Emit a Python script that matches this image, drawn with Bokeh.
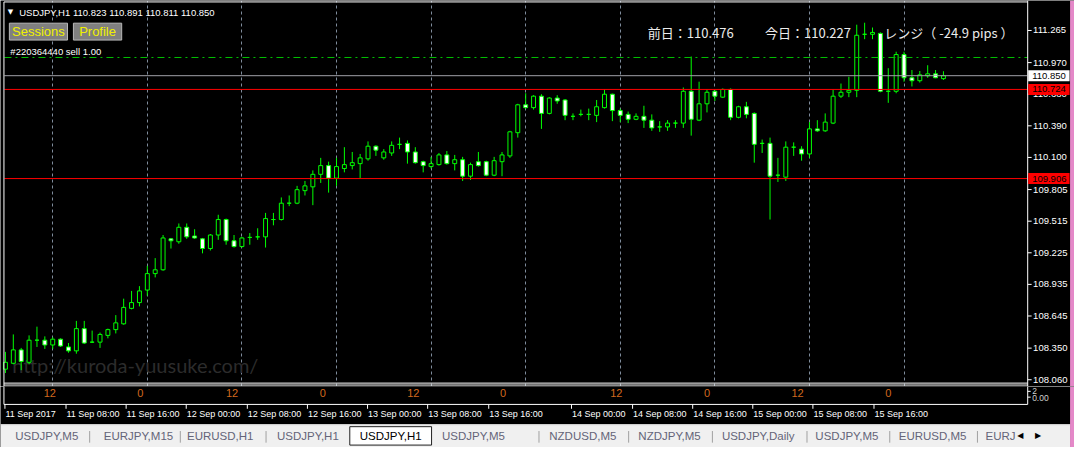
from bokeh.plotting import figure
from bokeh.models import Range1d, FixedTicker, Grid, ColumnDataSource
from bokeh.layouts import column
from bokeh.embed import file_html
from bokeh.resources import INLINE
from bokeh.core.properties import value

# ---------------- data ----------------
bars = list(range(120))  # hourly bars from 11 Sep 2017 00:00
opens = [108.157, 108.211, 108.334, 108.220, 108.423, 108.423, 108.379, 108.432, 108.361, 108.325,
         108.529, 108.405, 108.405, 108.467, 108.520, 108.573, 108.715, 108.768, 108.883, 109.034,
         109.069, 109.353, 109.326, 109.459, 109.379, 109.353, 109.264, 109.388, 109.530, 109.335,
         109.282, 109.366, 109.371, 109.371, 109.530, 109.530, 109.680, 109.680, 109.795, 109.830,
         109.945, 110.025, 109.910, 109.998, 110.025, 110.043, 110.087, 110.203, 110.096, 110.141,
         110.220, 110.229, 110.150, 110.061, 110.016, 110.034, 110.123, 110.043, 110.079, 109.928,
         110.061, 110.061, 109.937, 110.061, 110.114, 110.327, 110.583, 110.557, 110.662, 110.504,
         110.645, 110.627, 110.477, 110.495, 110.495, 110.486, 110.557, 110.680, 110.530, 110.495,
         110.450, 110.477, 110.442, 110.380, 110.380, 110.415, 110.415, 110.707, 110.442, 110.592,
         110.707, 110.653, 110.724, 110.468, 110.565, 110.504, 110.229, 110.229, 109.937, 109.919,
         110.194, 110.176, 110.132, 110.362, 110.344, 110.415, 110.662, 110.698, 110.716, 111.230,
         111.230, 111.238, 110.707, 110.707, 111.044, 110.831, 110.804, 110.849, 110.867, 110.823]
highs = [108.316, 108.476, 108.352, 108.467, 108.547, 108.458, 108.449, 108.440, 108.397, 108.600,
         108.600, 108.511, 108.493, 108.529, 108.653, 108.804, 108.875, 108.919, 109.105, 109.176,
         109.388, 109.361, 109.494, 109.494, 109.441, 109.361, 109.397, 109.574, 109.539, 109.388,
         109.371, 109.406, 109.450, 109.591, 109.591, 109.733, 109.751, 109.839, 109.884, 109.981,
         110.096, 110.061, 110.096, 110.194, 110.150, 110.132, 110.247, 110.211, 110.176, 110.247,
         110.282, 110.256, 110.194, 110.070, 110.105, 110.141, 110.159, 110.123, 110.105, 110.052,
         110.150, 110.070, 110.105, 110.150, 110.344, 110.592, 110.689, 110.671, 110.680, 110.653,
         110.671, 110.636, 110.504, 110.539, 110.548, 110.627, 110.724, 110.685, 110.548, 110.521,
         110.504, 110.574, 110.495, 110.433, 110.442, 110.442, 110.742, 111.026, 110.795, 110.724,
         110.716, 110.733, 110.733, 110.574, 110.610, 110.513, 110.264, 110.282, 110.096, 110.247,
         110.238, 110.203, 110.424, 110.442, 110.504, 110.724, 110.778, 110.840, 111.318, 111.336,
         111.292, 111.247, 110.919, 111.070, 111.070, 110.902, 110.893, 110.946, 110.902, 110.891]
lows = [108.122, 108.202, 108.148, 108.202, 108.361, 108.343, 108.343, 108.361, 108.308, 108.299,
        108.388, 108.397, 108.352, 108.440, 108.485, 108.565, 108.706, 108.733, 108.831, 108.999,
        109.060, 109.264, 109.308, 109.353, 109.353, 109.220, 109.246, 109.344, 109.299, 109.273,
        109.273, 109.299, 109.344, 109.273, 109.477, 109.521, 109.653, 109.671, 109.751, 109.662,
        109.866, 109.777, 109.839, 109.963, 109.990, 109.910, 110.070, 110.114, 110.079, 110.114,
        110.176, 110.043, 110.043, 109.963, 109.998, 110.025, 110.034, 109.981, 109.884, 109.893,
        110.016, 109.928, 109.928, 109.928, 110.096, 110.282, 110.548, 110.539, 110.362, 110.495,
        110.592, 110.442, 110.442, 110.477, 110.442, 110.424, 110.548, 110.433, 110.424, 110.415,
        110.442, 110.371, 110.344, 110.335, 110.344, 110.371, 110.371, 110.300, 110.433, 110.513,
        110.618, 110.645, 110.442, 110.459, 110.459, 110.052, 110.141, 109.530, 109.875, 109.884,
        110.114, 110.070, 110.096, 110.335, 110.335, 110.406, 110.645, 110.653, 110.653, 111.185,
        111.185, 110.698, 110.601, 110.689, 110.795, 110.751, 110.787, 110.831, 110.827, 110.811]
closes = [108.220, 108.334, 108.228, 108.423, 108.423, 108.379, 108.432, 108.370, 108.325, 108.529,
          108.397, 108.405, 108.476, 108.520, 108.582, 108.724, 108.768, 108.875, 109.034, 109.069,
          109.361, 109.335, 109.459, 109.371, 109.361, 109.264, 109.388, 109.530, 109.335, 109.282,
          109.361, 109.366, 109.371, 109.539, 109.530, 109.680, 109.680, 109.804, 109.839, 109.945,
          110.025, 109.910, 110.016, 110.034, 110.052, 110.096, 110.203, 110.167, 110.150, 110.211,
          110.220, 110.150, 110.052, 110.025, 110.043, 110.123, 110.043, 110.079, 109.928, 110.034,
          110.025, 109.937, 110.070, 110.123, 110.335, 110.583, 110.557, 110.662, 110.504, 110.645,
          110.618, 110.486, 110.477, 110.495, 110.495, 110.565, 110.680, 110.530, 110.486, 110.450,
          110.477, 110.442, 110.371, 110.380, 110.415, 110.415, 110.707, 110.450, 110.592, 110.698,
          110.662, 110.724, 110.468, 110.565, 110.495, 110.220, 110.229, 109.928, 109.937, 110.194,
          110.194, 110.132, 110.362, 110.344, 110.424, 110.662, 110.698, 110.716, 111.221, 111.230,
          111.247, 110.707, 110.707, 111.044, 110.831, 110.804, 110.858, 110.867, 110.831, 110.850]

price_ticks = [108.060, 108.350, 108.645, 108.935, 109.225, 109.515, 109.805,
               110.100, 110.390, 110.680, 110.970, 111.265]
grid_bars = [6, 18, 30, 42, 54, 66, 78, 90, 102, 114]
bid_price = 110.850
red_levels = [110.724, 109.906]
order_price = 111.017
header_text = "USDJPY,H1  110.823 110.891 110.811 110.850"
order_text = "#220364440 sell 1.00"
jp_texts = ["前日：110.476", "今日：110.227", "レンジ（ -24.9 pips ）"]
jp_x = [657, 776, 897]
session_labels = ["12", "0", "12", "0", "12", "0", "12", "0", "12", "0"]
session_x = [50, 142, 235, 327, 419, 510, 625, 717, 809, 901]
time_labels = ["11 Sep 2017", "11 Sep 08:00", "11 Sep 16:00", "12 Sep 00:00", "12 Sep 08:00",
               "12 Sep 16:00", "13 Sep 00:00", "13 Sep 08:00", "13 Sep 16:00", "14 Sep 00:00",
               "14 Sep 08:00", "14 Sep 16:00", "15 Sep 00:00", "15 Sep 08:00", "15 Sep 16:00"]
time_x = [4, 66, 127, 188, 250, 311, 372, 433, 495, 579, 641, 702, 763, 824, 886]
tabs = ["USDJPY,M5", "EURJPY,M15", "EURUSD,H1", "USDJPY,H1", "USDJPY,H1", "USDJPY,M5",
        "NZDUSD,M5", "NZDJPY,M5", "USDJPY,Daily", "USDJPY,M5", "EURUSD,M5", "EURJ"]
tab_x = [47, 140, 223, 312, 396, 480, 591, 679, 769, 859, 946, 1015]
active_tab = 4
tab_sep_x = [90, 182, 269, 546, 637, 722, 818, 902, 991]

LIME = "#00ff00"
FONT = value("Liberation Sans")
PINK = "#e488c8"

# ---------------- main chart (frame = whole panel, price scale drawn at right) ----------------
p = figure(width=1074, height=386, title=None,
           x_range=Range1d(-0.625, 135.625), y_range=Range1d(107.998, 111.540),
           x_axis_location=None, y_axis_location=None,
           output_backend="svg", toolbar_location=None,
           background_fill_color="black", border_fill_color="black",
           min_border=0, outline_line_color=None)
p.extra_x_ranges = {"px": Range1d(0, 1090)}
p.extra_y_ranges = {"px": Range1d(400, 0)}
p.grid.visible = False

p.add_layout(Grid(dimension=0, ticker=FixedTicker(ticks=grid_bars),
                  grid_line_color="#7f8c9c", grid_line_dash="3 3", grid_line_width=1))

# texts under the candles
p.text(x=[12], y=[378], text=["http://kuroda-yuusuke.com/"], x_range_name="px", y_range_name="px",
       text_color="#2c2c2c", text_font=value("Lato"), text_font_size="20px",
       text_baseline="middle", text_align="left")
p.text(x=jp_x, y=[33] * 3, text=jp_texts, x_range_name="px", y_range_name="px",
       text_color="#ececec", text_font=value("Noto Sans CJK JP"), text_font_size="13px",
       text_baseline="middle", text_align="left")
p.text(x=[10], y=[12], text=["▼"], x_range_name="px", y_range_name="px",
       text_color="white", text_font=value("DejaVu Sans"), text_font_size="7px",
       text_baseline="middle", text_align="center")
p.text(x=[19], y=[12], text=[header_text], x_range_name="px", y_range_name="px",
       text_color="white", text_font=FONT, text_font_size="9.5px",
       text_baseline="middle", text_align="left")
p.text(x=[10], y=[53], text=[order_text], x_range_name="px", y_range_name="px",
       text_color="white", text_font=FONT, text_font_size="9.5px",
       text_baseline="middle", text_align="left")

# candles
src = ColumnDataSource(dict(
    x=bars, o=opens, h=highs, l=lows, c=closes,
    top=[max(a, b) for a, b in zip(opens, closes)],
    bot=[min(a, b) for a, b in zip(opens, closes)],
    fill=["white" if c < o else "black" for o, c in zip(opens, closes)],
))
p.segment(x0="x", y0="l", x1="x", y1="h", source=src, line_color=LIME, line_width=1)
p.vbar(x="x", width=0.5, top="top", bottom="bot", source=src,
       fill_color="fill", line_color=LIME, line_width=1)

# horizontal levels (chart width only)
p.segment(x0=[4], x1=[1042], y0=[order_price], y1=[order_price], x_range_name="px",
          line_color="#00c000", line_width=1, line_dash="7 4 2 4")
p.segment(x0=[4], x1=[1042], y0=[bid_price], y1=[bid_price], x_range_name="px",
          line_color="#a0a0a8", line_width=1)
p.segment(x0=[4] * 2, x1=[1042] * 2, y0=red_levels, y1=red_levels, x_range_name="px",
          line_color="#ff0000", line_width=1)

# chart frame, plus top edge of the sub-window
p.segment(x0=[3.5, 3.5, 3.5, 3.5], y0=[1.5, 1.5, 396.5, 398.5],
          x1=[1042.5, 3.5, 1042.5, 1042.5], y1=[1.5, 400, 396.5, 398.5],
          x_range_name="px", y_range_name="px", line_color="white", line_width=1)

# price scale on the right
p.segment(x0=[1042.5], y0=[0], x1=[1042.5], y1=[400], x_range_name="px", y_range_name="px",
          line_color="white", line_width=1)
p.segment(x0=[1042.5] * len(price_ticks), x1=[1046.5] * len(price_ticks),
          y0=price_ticks, y1=price_ticks, x_range_name="px", line_color="white")
p.text(x=[1048] * len(price_ticks), y=price_ticks, text=[f"{t:.3f}" for t in price_ticks],
       x_range_name="px", text_color="white", text_font=FONT, text_font_size="9.5px",
       text_baseline="middle", text_align="left")

# price tags
tag_prices = [bid_price] + red_levels
tag_fill = ["white", "#ff0000", "#ff0000"]
p.rect(x=[1064] * 3, y=tag_prices, width=[42] * 3, height=[11] * 3, height_units="screen",
       x_range_name="px", fill_color=tag_fill, line_color=None)
p.text(x=[1047] * 3, y=tag_prices, text=[f"{v:.3f}" for v in tag_prices], x_range_name="px",
       text_color="black", text_font=FONT, text_font_size="9.5px",
       text_baseline="middle", text_align="left")

# buttons
p.quad(left=[9, 74], right=[68, 123], top=[23.5, 23.5], bottom=[41, 41],
       x_range_name="px", y_range_name="px", fill_color="#808080", line_color="#b8b8b8")
p.text(x=[38.5, 98.5], y=[32.5, 32.5], text=["Sessions", "Profile"], x_range_name="px", y_range_name="px",
       text_color="#f0f000", text_font=FONT, text_font_size="13px",
       text_baseline="middle", text_align="center")

# window edge strip
p.quad(left=[1085.5], right=[1090], top=[0], bottom=[400], x_range_name="px", y_range_name="px",
       fill_color=PINK, line_color=None)

# ---------------- sub-window, time scale and tabs ----------------
p2 = figure(width=1074, height=61, title=None,
            x_range=Range1d(0, 1090), y_range=Range1d(463, 400),
            x_axis_location=None, y_axis_location=None,
            output_backend="svg", toolbar_location=None,
            background_fill_color="black", border_fill_color="black",
            min_border=0, outline_line_color=None)
p2.grid.visible = False

p2.quad(left=[3.5], right=[1042.5], top=[398], bottom=[418.5],
        fill_color="black", line_color="white", line_width=1)
p2.text(x=session_x, y=[407] * len(session_x), text=session_labels,
        text_color="#d2691e", text_font=FONT, text_font_size="11px",
        text_baseline="middle", text_align="center")
p2.segment(x0=[1042.5, 1042.5], y0=[405, 411], x1=[1045.5, 1045.5], y1=[405, 411], line_color="white")
p2.text(x=[1047, 1047], y=[405, 412], text=["2", "0.00"],
        text_color="#d0d0d0", text_font=FONT, text_font_size="8.5px",
        text_baseline="middle", text_align="left")

# time scale
p2.segment(x0=[t + 0.5 for t in time_x], y0=[418.5] * len(time_x),
           x1=[t + 0.5 for t in time_x], y1=[423] * len(time_x), line_color="white")
p2.text(x=[t + 1 for t in time_x], y=[428.5] * len(time_x), text=time_labels,
        text_color="white", text_font=FONT, text_font_size="9px",
        text_baseline="middle", text_align="left")

# tab bar
p2.quad(left=[0], right=[1086], top=[439], bottom=[463], fill_color="#f0f0f0", line_color=None)
p2.segment(x0=[0], y0=[439.5], x1=[1086], y1=[439.5], line_color="#d8d8d8")
p2.segment(x0=[s + 0.5 for s in tab_sep_x], y0=[446] * len(tab_sep_x),
           x1=[s + 0.5 for s in tab_sep_x], y1=[458] * len(tab_sep_x), line_color="#a0a0a0")
p2.quad(left=[354.5], right=[437.5], top=[441.5], bottom=[460.5], fill_color="white", line_color="#202020")
tab_colors = ["black" if i == active_tab else "#646478" for i in range(len(tabs))]
p2.text(x=tab_x, y=[451] * len(tabs), text=tabs, text_color=tab_colors,
        text_font=FONT, text_font_size="11.5px", text_baseline="middle", text_align="center")
p2.text(x=[1035, 1053], y=[451, 451], text=["◀", "▶"], text_color="black",
        text_font=value("DejaVu Sans"), text_font_size="8px",
        text_baseline="middle", text_align="center")
p2.quad(left=[1085.5], right=[1090], top=[400], bottom=[463],
        fill_color=PINK, line_color=None)

layout = column(p, p2, spacing=0)
open("out.html", "w").write(file_html(layout, INLINE))
